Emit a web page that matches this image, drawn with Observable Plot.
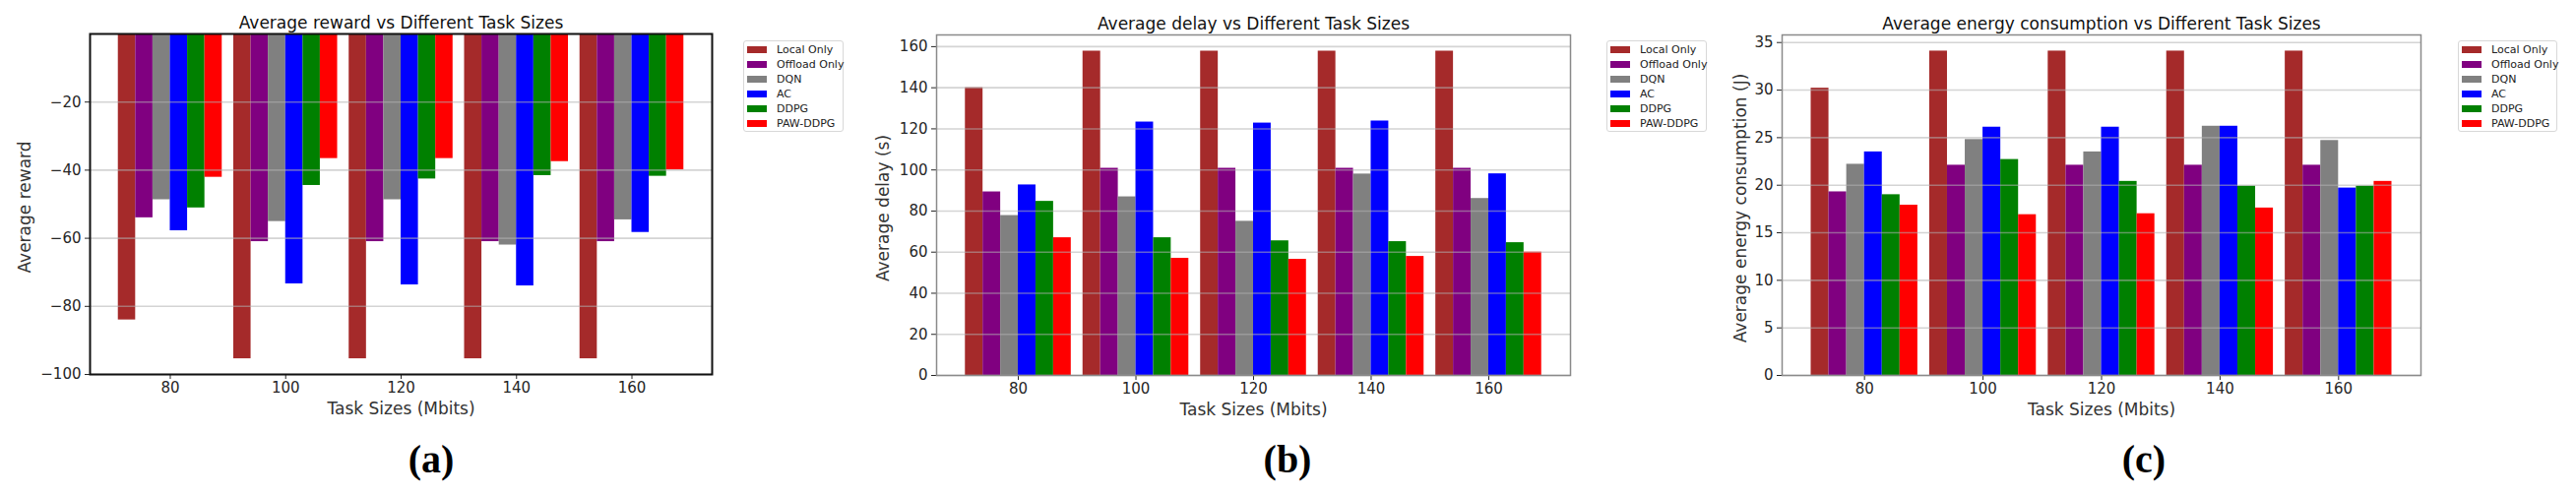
<!DOCTYPE html>
<html>
<head>
<meta charset="utf-8">
<script src="https://cdn.jsdelivr.net/npm/d3@7"></script>
<script src="https://cdn.jsdelivr.net/npm/@observablehq/plot@0.6"></script>
<style>
  html, body { margin: 0; padding: 0; background: #fff; }
  #root { position: relative; width: 2617px; height: 504px; overflow: hidden; font-family: "DejaVu Sans", sans-serif; }
  .panel { position: absolute; top: 0; }
  .legend { position: absolute; border: 1px solid #d8d8d8; border-radius: 3px; background: #fff; box-sizing: border-box; }
  .legend .row { position: absolute; left: 0; height: 15px; width: 100%; }
  .legend .sw { position: absolute; left: 3px; top: 4px; width: 20px; height: 7px; }
  .legend .lb { position: absolute; left: 33px; top: 0; font-size: 11px; line-height: 15px; color: #222; white-space: nowrap; }
  .tag { position: absolute; font-family: "Liberation Serif", serif; font-weight: bold; font-size: 40px; color: #000; transform: translate(-50%, -50%); white-space: nowrap; }
</style>
</head>
<body>
<div id="root"></div>
<script>
// ---------- data ----------
const taskSizes = [80, 100, 120, 140, 160];
const methods = ["Local Only", "Offload Only", "DQN", "AC", "DDPG", "PAW-DDPG"];
const methodColors = ["#a52a2a", "#800080", "#808080", "#0000ff", "#008000", "#ff0000"];

// rows follow `methods`, columns follow `taskSizes`
const rewardValues = [
  [-84.0, -95.4, -95.4, -95.4, -95.4],
  [-54.0, -61.0, -61.0, -61.0, -61.0],
  [-48.7, -55.1, -48.7, -62.0, -54.6],
  [-57.8, -73.4, -73.7, -74.0, -58.3],
  [-51.1, -44.5, -42.6, -41.6, -41.8],
  [-42.1, -36.6, -36.6, -37.5, -39.9]
];
const delayValues = [
  [140.0, 157.8, 157.8, 157.8, 157.8],
  [89.3, 100.8, 100.8, 100.8, 100.8],
  [77.8, 86.9, 75.0, 98.0, 86.1],
  [92.7, 123.3, 122.8, 123.8, 98.1],
  [84.7, 67.0, 65.5, 65.1, 64.6],
  [67.0, 57.0, 56.5, 57.9, 60.0]
];
const energyValues = [
  [30.2, 34.1, 34.1, 34.1, 34.1],
  [19.3, 22.1, 22.1, 22.1, 22.1],
  [22.2, 24.8, 23.5, 26.2, 24.7],
  [23.5, 26.1, 26.1, 26.2, 19.7],
  [19.0, 22.7, 20.4, 19.9, 19.9],
  [17.9, 16.9, 17.0, 17.6, 20.4]
];

const rewardTicks = [-100, -80, -60, -40, -20];
const delayTicks = [0, 20, 40, 60, 80, 100, 120, 140, 160];
const energyTicks = [0, 5, 10, 15, 20, 25, 30, 35];

// ---------- helpers ----------
const barWidth = 3; // in task-size units
function toTable(values) {
  const rows = [];
  methods.forEach((m, i) => {
    taskSizes.forEach((s, j) => {
      rows.push({method: m, size: s, value: values[i][j],
                 x1: s + (i - methods.length / 2) * barWidth,
                 x2: s + (i - methods.length / 2 + 1) * barWidth});
    });
  });
  return rows;
}

const root = document.getElementById("root");

function panel(cfg) {
  const data = toTable(cfg.values);
  const W = 870, H = 504;
  const chart = Plot.plot({
    width: W, height: H,
    marginLeft: cfg.ml, marginRight: W - cfg.fr, marginTop: cfg.ft, marginBottom: H - cfg.fb,
    style: {fontFamily: "DejaVu Sans, sans-serif", fontSize: "15px", color: "#262626", background: "transparent", overflow: "visible"},
    x: {type: "linear", domain: [66.1, 173.9]},
    y: {domain: cfg.ydomain},
    color: {domain: methods, range: methodColors},
    marks: [
      Plot.rectY(data, {x1: "x1", x2: "x2", y1: 0, y2: "value", fill: "method"}),
      Plot.gridY(cfg.ticks, {stroke: "#b0b0b0", strokeOpacity: 0.55, strokeWidth: 1.6}),
      Plot.axisY({ticks: cfg.ticks, tickSize: 5, tickPadding: 4, label: null, fontSize: 15}),
      Plot.axisX({ticks: taskSizes, tickFormat: d => String(d), tickSize: 5, tickPadding: 3, label: null, fontSize: 15}),
      Plot.frame({stroke: cfg.frameColor, strokeWidth: cfg.frameWidth}),
      Plot.text([cfg.title], {text: d => d, frameAnchor: "top", textAnchor: "middle", lineAnchor: "middle", dy: -11, fontSize: 17, fill: "#111"}),
      Plot.text([cfg.xlabel], {text: d => d, frameAnchor: "bottom", textAnchor: "middle", lineAnchor: "middle", dy: 35, fontSize: 17, fill: "#333"}),
      Plot.text([cfg.ylabel], {text: d => d, frameAnchor: "left", textAnchor: "middle", lineAnchor: "middle", dx: cfg.ylx - cfg.ml, dy: 3, rotate: -90, fontSize: 17, fill: "#333"})
    ]
  });
  const div = document.createElement("div");
  div.className = "panel";
  div.style.left = cfg.left + "px";
  div.appendChild(chart);
  root.appendChild(div);

  // legend
  const lg = document.createElement("div");
  lg.className = "legend";
  lg.style.left = cfg.legendLeft + "px";
  lg.style.top = "41px";
  lg.style.width = cfg.legendWidth + "px";
  lg.style.height = "93px";
  methods.forEach((m, i) => {
    const row = document.createElement("div");
    row.className = "row";
    row.style.top = (1 + i * 15) + "px";
    const sw = document.createElement("div");
    sw.className = "sw";
    sw.style.background = methodColors[i];
    const lb = document.createElement("div");
    lb.className = "lb";
    lb.textContent = m;
    row.appendChild(sw); row.appendChild(lb);
    lg.appendChild(row);
  });
  root.appendChild(lg);

  const tag = document.createElement("div");
  tag.className = "tag";
  tag.style.left = cfg.tagX + "px";
  tag.style.top = "466px";
  tag.textContent = cfg.tag;
  root.appendChild(tag);
}

panel({
  left: 0, ml: 91, fr: 723, ft: 34, fb: 380, ylx: 25,
  values: rewardValues, ydomain: [-100, 0], ticks: rewardTicks,
  frameColor: "#111", frameWidth: 2,
  title: "Average reward vs Different Task Sizes",
  xlabel: "Task Sizes (Mbits)", ylabel: "Average reward",
  legendLeft: 755, legendWidth: 102, tag: "(a)", tagX: 438
});
panel({
  left: 870, ml: 81, fr: 725, ft: 35, fb: 381, ylx: 27,
  values: delayValues, ydomain: [0, 165.7], ticks: delayTicks,
  frameColor: "#8a8a8a", frameWidth: 1.5,
  title: "Average delay vs Different Task Sizes",
  xlabel: "Task Sizes (Mbits)", ylabel: "Average delay (s)",
  legendLeft: 1632, legendWidth: 102, tag: "(b)", tagX: 1308
});
panel({
  left: 1740, ml: 70, fr: 719, ft: 35, fb: 381, ylx: 28,
  values: energyValues, ydomain: [0, 35.8], ticks: energyTicks,
  frameColor: "#8a8a8a", frameWidth: 1.5,
  title: "Average energy consumption vs Different Task Sizes",
  xlabel: "Task Sizes (Mbits)", ylabel: "Average energy consumption (J)",
  legendLeft: 2497, legendWidth: 101, tag: "(c)", tagX: 2178
});
</script>
</body>
</html>
